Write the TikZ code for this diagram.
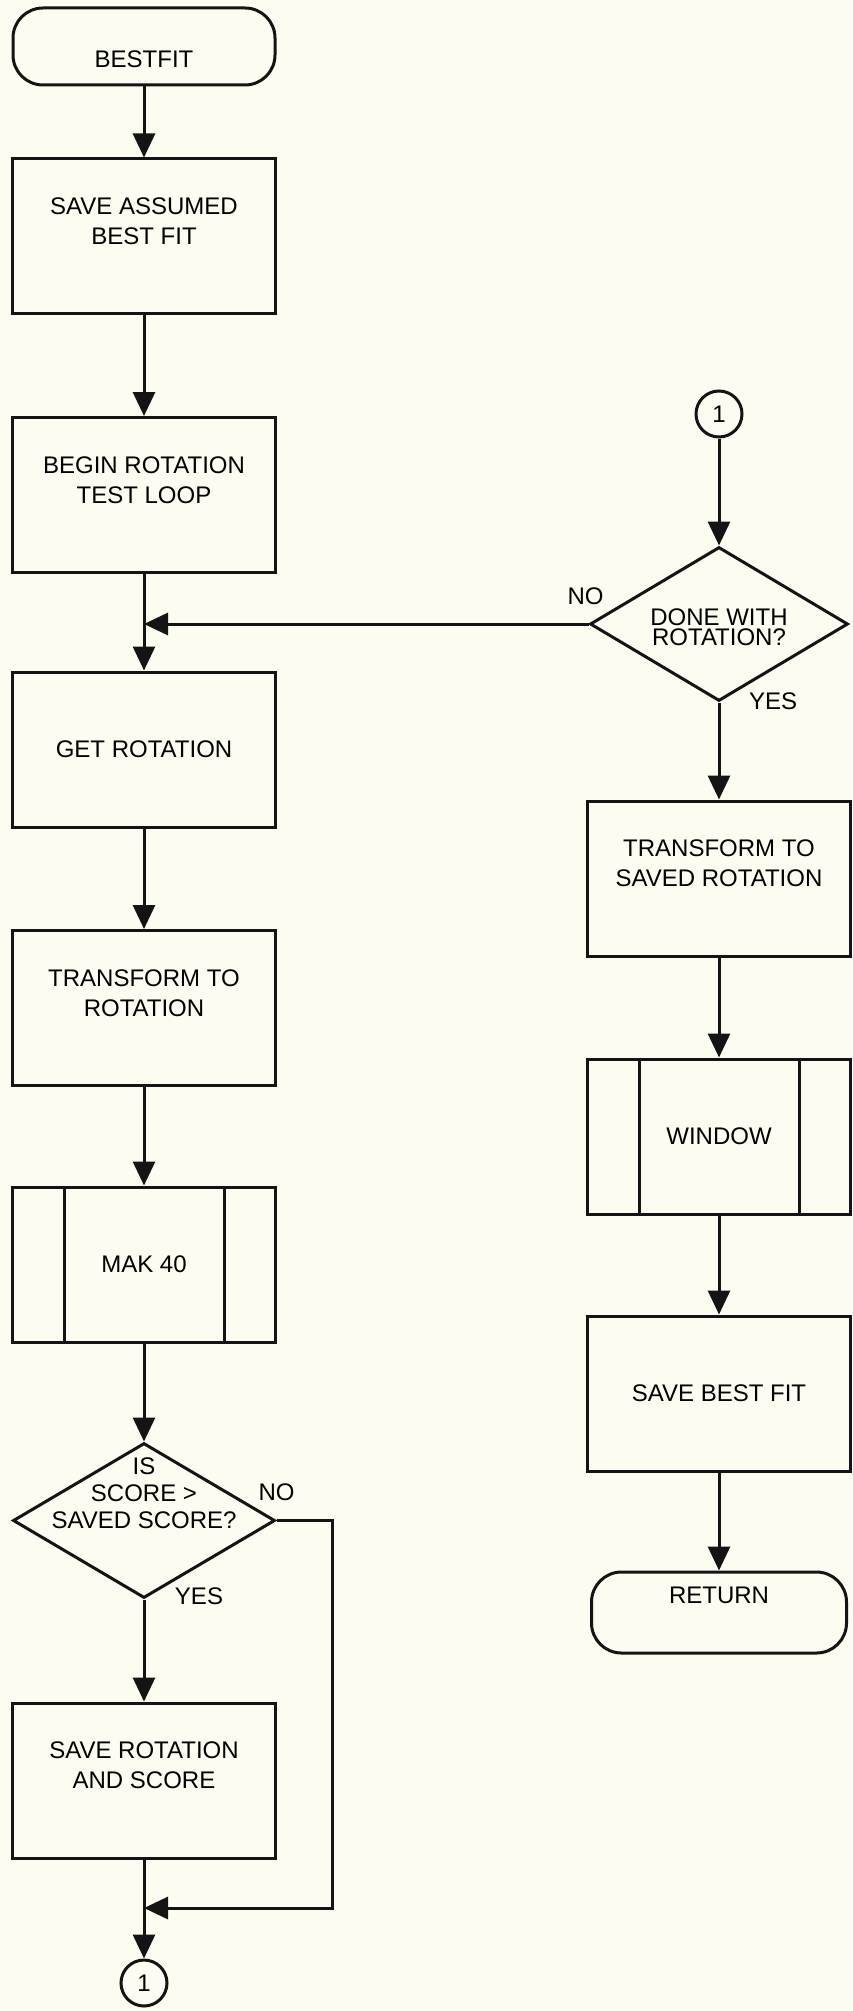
\documentclass[tikz,border=0pt]{standalone}
\usepackage{fontspec}
\setmainfont{Liberation Sans}
\usetikzlibrary{arrows.meta,shapes.geometric,calc}
\definecolor{paper}{HTML}{FCFCF0}
\definecolor{ink}{HTML}{141414}
\tikzset{
  >={Triangle[length=12pt,width=11pt]},
  every picture/.style={line width=1.5pt,draw=ink,font=\fontsize{12}{15}\selectfont},
  bx/.style={draw=ink,rectangle,minimum width=131.5pt,minimum height=77.5pt,inner sep=0pt,align=center},
  bxtwo/.style={bx,text depth=15pt},
  term/.style={draw=ink,rectangle,rounded corners=15pt,minimum width=131pt,minimum height=39.5pt,inner sep=0pt,align=center},
  dec/.style={draw=ink,diamond,minimum width=130pt,minimum height=77pt,inner sep=0pt},
  qtext/.style={align=center,inner sep=0pt},
  conn/.style={draw=ink,circle,minimum size=23pt,inner sep=0pt},
  lab/.style={inner sep=0pt},
  arr/.style={->,draw=ink},
}
\begin{document}
\begin{tikzpicture}[x=0.5pt,y=-0.5pt]
  \fill[paper] (0,0) rectangle (852,2011);
  % left column
  \node[term,text height=21.6pt,minimum height=38.5pt] (start) at (144,46.5) {BESTFIT};
  \node[bxtwo] (save1) at (144,236.5) {SAVE ASSUMED\\BEST FIT};
  \node[bxtwo] (loop1) at (144,495) {BEGIN ROTATION\\TEST LOOP};
  \node[bx] (getrot) at (144,749.5) {GET ROTATION};
  \node[bxtwo] (xform) at (144,1008) {TRANSFORM TO\\ROTATION};
  \node[bx] (mak) at (144,1264.5) {MAK 40};
  \node[dec,minimum width=131pt,minimum height=77.5pt] (isbig) at (144,1520.5) {};
  \node[qtext,font=\fontsize{12}{13.5}\selectfont] (isbigq) at ($(isbig)+(0,-27)$) {IS\\SCORE >\\SAVED SCORE?};
  \node[bxtwo] (savrot) at (144,1780.5) {SAVE ROTATION\\AND SCORE};
  \node[conn] (c1b) at (144,1983) {1};
  \node[lab] (noL) at ($(isbig.east)+(0,-28)$) {NO};
  \node[lab] (yesL) at ($(isbig.south)+(55,-3)$) {YES};
  % right column
  \node[conn] (c1t) at (719,414) {1};
  \node[dec,minimum width=129pt,minimum height=77pt] (done) at (719,624) {};
  \node[qtext,font=\fontsize{12}{10}\selectfont] (doneq) at ($(done)+(0,3)$) {DONE WITH\\ROTATION?};
  \node[bxtwo] (xsaved) at (719,878.5) {TRANSFORM TO\\SAVED ROTATION};
  \node[bx] (win) at (719,1136.5) {WINDOW};
  \node[bx] (savebest) at (719,1393.5) {SAVE BEST FIT};
  \node[term,text depth=17pt,minimum width=127.5pt,minimum height=40.5pt] (ret) at (719,1612.5) {RETURN};
  \node[lab] (noR) at ($(done.west)+(-3,-28)$) {NO};
  \node[lab] (yesR) at ($(done.south)+(54,-1)$) {YES};
  % side bars of the predefined processes
  \foreach \n in {mak,win}{
    \draw ($(\n.north west)+(53,0)$) -- ($(\n.south west)+(53,0)$);
    \draw ($(\n.north east)+(-53,0)$) -- ($(\n.south east)+(-53,0)$);
  }
  \coordinate (j1) at (loop1.south |- done.west);
  \coordinate (j2) at (144,1908);
  \coordinate (nobend) at (332,1908);
  % connectors
  \draw[arr] (start) -- (save1);
  \draw[arr] (save1) -- (loop1);
  \draw[arr] (loop1) -- (getrot);
  \draw[arr] (getrot) -- (xform);
  \draw[arr] (xform) -- (mak);
  \draw[arr] (mak) -- (isbig);
  \draw[arr] (isbig) -- (savrot);
  \draw[arr] (savrot) -- (c1b);
  \draw[arr] (isbig.east) -| (nobend) -- (j2);
  \draw[arr] (c1t) -- (done);
  \draw[arr] (done.west) -- (j1);
  \draw[arr] (done) -- (xsaved);
  \draw[arr] (xsaved) -- (win);
  \draw[arr] (win) -- (savebest);
  \draw[arr] (savebest) -- (ret);
\end{tikzpicture}
\end{document}
